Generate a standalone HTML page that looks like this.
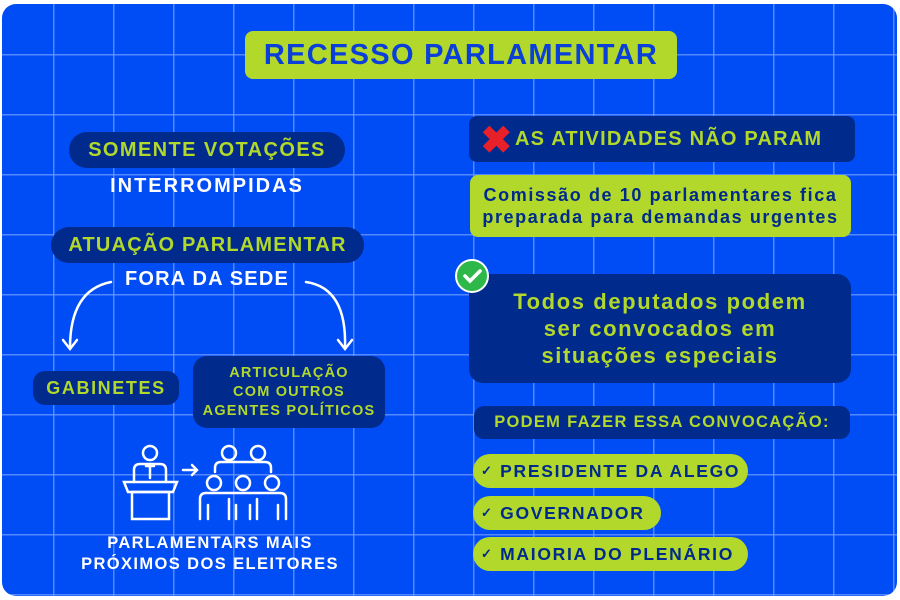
<!DOCTYPE html>
<html><head><style>
body{margin:0;width:900px;height:600px;background:#fff;overflow:hidden;font-family:"Liberation Sans",sans-serif;font-weight:bold;letter-spacing:1.4px}
#c{position:absolute;left:2px;top:4px;width:895px;height:592px;border-radius:14px;overflow:hidden;background-color:#004cf5;
background-image:linear-gradient(90deg,rgba(120,160,255,.7) 1.5px,transparent 1.5px),linear-gradient(rgba(120,160,255,.7) 1.5px,transparent 1.5px);
background-size:60px 60px;background-position:51px 50px}
.a{position:absolute;box-sizing:border-box;display:flex;align-items:center;justify-content:center;text-align:center;white-space:nowrap}
.n{background:#002a8c;color:#b1d82a}
.l{background:#b1d82a;color:#002a8c}
.w{color:#fff}
</style></head><body>
<div id="c"></div>
<div class="a l" style="left:245px;top:31px;width:432px;height:48px;border-radius:8px;font-size:29px;color:#0a3fd9;letter-spacing:1.3px">RECESSO PARLAMENTAR</div>
<div class="a n" style="left:69px;top:132px;width:276px;height:36px;border-radius:18px;font-size:20px">SOMENTE VOTAÇÕES</div>
<div class="a w" style="left:69px;top:172px;width:276px;height:28px;font-size:20px;letter-spacing:2px">INTERROMPIDAS</div>
<div class="a n" style="left:51px;top:227px;width:313px;height:36px;border-radius:18px;font-size:20px;letter-spacing:1.2px">ATUAÇÃO PARLAMENTAR</div>
<div class="a w" style="left:69px;top:265px;width:276px;height:28px;font-size:20px;letter-spacing:1.2px">FORA DA SEDE</div>
<svg style="position:absolute;left:0;top:0" width="900" height="600" fill="none" stroke="#fff" stroke-width="2.5" stroke-linecap="round">
<path d="M111 282 Q70 290 70 348"/><path d="M63 340 L70 349 L77 340"/>
<path d="M306 282 Q347 288 345 348"/><path d="M338 340 L345 349 L352 340"/>
<circle cx="150" cy="453" r="7"/><path d="M134 482 v-12 q0-6 6-6 h20 q6 0 6 6 v12"/><path d="M150 464 v14 M146 466 h8"/>
<path d="M124 482 h53 l-4 10 h-45 z"/><rect x="132" y="492" width="37" height="27"/>
<path d="M183 470 h14 M192 465 l5 5 -5 5"/>
<circle cx="229" cy="453" r="7"/><circle cx="258" cy="453" r="7"/><path d="M215 472 v-4 q0-6 6-6 h44 q6 0 6 6 v4"/>
<circle cx="214" cy="483" r="7"/><circle cx="243" cy="483" r="7"/><circle cx="272" cy="483" r="7"/>
<path d="M200 519 v-20 q0-6 6-6 h74 q6 0 6 6 v20 M229 499 v20 M257 499 v20 M208 505 v14 M236 505 v14 M250 505 v14 M278 505 v14"/>
</svg>
<div class="a n" style="left:33px;top:371px;width:146px;height:34px;border-radius:12px;font-size:18px;letter-spacing:1.6px">GABINETES</div>
<div class="a n" style="left:193px;top:356px;width:192px;height:72px;border-radius:14px;font-size:14.5px;line-height:19px;white-space:normal;letter-spacing:1.2px">ARTICULAÇÃO<br>COM OUTROS<br>AGENTES POLÍTICOS</div>
<div class="a w" style="left:60px;top:533px;width:300px;height:42px;font-size:16.5px;line-height:21px">PARLAMENTARS MAIS<br>PRÓXIMOS DOS ELEITORES</div>
<div class="a n" style="left:469px;top:116px;width:386px;height:46px;border-radius:8px;font-size:20px;justify-content:flex-start;padding-left:46px;letter-spacing:1.2px">AS ATIVIDADES NÃO PARAM</div>
<div class="a" style="left:479px;top:120px;width:36px;height:40px;color:#e8202a;font-size:38px">✖</div>
<div class="a l" style="left:470px;top:175px;width:381px;height:62px;border-radius:8px;font-size:18px;line-height:22px;letter-spacing:1.6px">Comissão de 10 parlamentares fica<br>preparada para demandas urgentes</div>
<div class="a n" style="left:469px;top:274px;width:382px;height:109px;border-radius:14px;font-size:22px;line-height:27px;letter-spacing:1.6px">Todos deputados podem<br>ser convocados em<br>situações especiais</div>
<div style="position:absolute;left:455px;top:259px;width:34px;height:34px;border-radius:50%;background:#2fb84a;border:2px solid #fff;box-sizing:border-box"></div>
<svg style="position:absolute;left:455px;top:259px" width="34" height="34"><path d="M10 17 l5 5 10-10" stroke="#fff" stroke-width="3.5" fill="none" stroke-linecap="round"/></svg>
<div class="a n" style="left:474px;top:406px;width:376px;height:33px;border-radius:10px;font-size:16.5px;letter-spacing:1.3px">PODEM FAZER ESSA CONVOCAÇÃO:</div>
<div class="a l" style="left:473px;top:454px;width:275px;height:34px;border-radius:17px;font-size:17.5px;justify-content:flex-start;padding-left:8px;letter-spacing:1.7px"><span style="font-size:13px">✓</span>&nbsp;PRESIDENTE DA ALEGO</div>
<div class="a l" style="left:473px;top:496px;width:188px;height:34px;border-radius:17px;font-size:17.5px;justify-content:flex-start;padding-left:8px;letter-spacing:1.7px"><span style="font-size:13px">✓</span>&nbsp;GOVERNADOR</div>
<div class="a l" style="left:473px;top:537px;width:275px;height:34px;border-radius:17px;font-size:17.5px;justify-content:flex-start;padding-left:8px;letter-spacing:1.7px"><span style="font-size:13px">✓</span>&nbsp;MAIORIA DO PLENÁRIO</div>
</body></html>
